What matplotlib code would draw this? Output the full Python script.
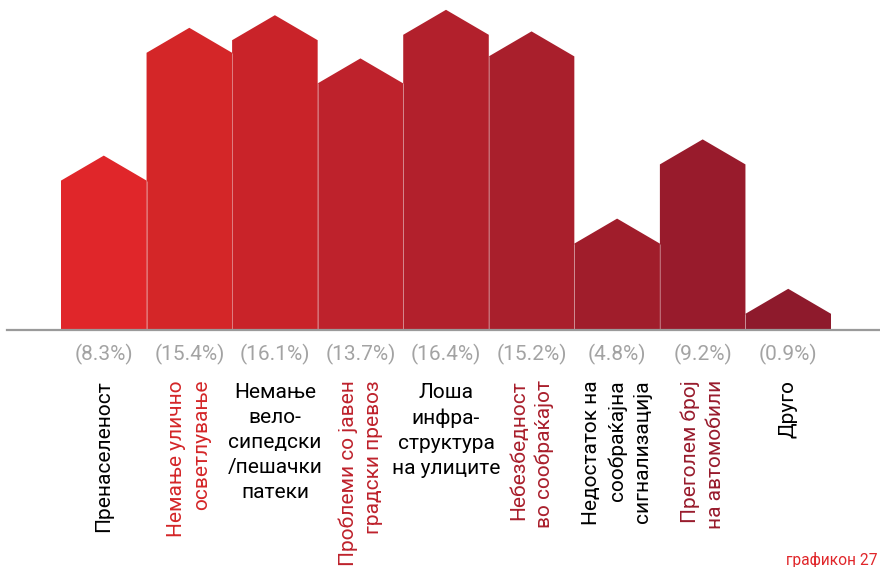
import matplotlib
matplotlib.use('Agg')
import matplotlib.pyplot as plt
from matplotlib.patches import Polygon

categories = [
    "Пренаселеност",
    "Немање улично\nосветлување",
    "Немање\nвело-\nсипедски\n/пешачки\nпатеки",
    "Проблеми со јавен\nградски превоз",
    "Лоша\nинфра-\nструктура\nна улиците",
    "Небезбедност\nво сообраќајот",
    "Недостаток на\nсообраќајна\nсигнализација",
    "Преголем број\nна автомобили",
    "Друго",
]
values = [8.3, 15.4, 16.1, 13.7, 16.4, 15.2, 4.8, 9.2, 0.9]
bar_colors = ["#e0262a", "#d42628", "#c92329", "#be222c", "#b2202c",
              "#a91f2c", "#a01d2b", "#981b2c", "#8e1a2c"]
label_vertical = [True, True, False, True, False, True, True, True, True]
label_red = [False, True, False, True, False, True, False, True, False]
footer = "графикон 27"

plt.rcParams['font.family'] = ['Roboto', 'DejaVu Sans']

W, H = 880, 567
fig = plt.figure(figsize=(W / 100, H / 100), dpi=100)
base_px = 330
ax = fig.add_axes([7 / W, (H - base_px) / H, (W - 7) / W, base_px / H])

px_per_unit = 85.56
left_units = (61 - 7) / px_per_unit
right_units = (W - 831) / px_per_unit
ax.set_xlim(-0.5 - left_units, len(values) - 0.5 + right_units)
ymax = base_px / 18.0
ax.set_ylim(0, ymax)
roof = 25 / 18.0

for i, (v, c) in enumerate(zip(values, bar_colors)):
    poly = Polygon([(i - 0.5, 0), (i - 0.5, v), (i, v + roof), (i + 0.5, v), (i + 0.5, 0)],
                   closed=True, facecolor=c, edgecolor='none', zorder=2)
    ax.add_patch(poly)

# thin light separators between adjacent bars
for i in range(len(values) - 1):
    ax.vlines(i + 0.5, 0, min(values[i], values[i + 1]), color='white',
              alpha=0.35, linewidth=0.7, zorder=3)

for s in ['top', 'right', 'left']:
    ax.spines[s].set_visible(False)
ax.spines['bottom'].set_color('#9a9a9a')
ax.spines['bottom'].set_linewidth(1.6)
ax.spines['bottom'].set_zorder(4)
ax.set_xticks([])
ax.set_yticks([])
ax.patch.set_alpha(0)

for i, v in enumerate(values):
    ax.annotate(f"({v:.1f}%)", xy=(i, 0), xycoords='data',
                xytext=(0, -24), textcoords='offset pixels',
                ha='center', va='center', fontsize=15, color='#a3a3a3',
                annotation_clip=False)
    color = bar_colors[i] if label_red[i] else 'black'
    if label_vertical[i]:
        ax.annotate(categories[i], xy=(i, 0), xycoords='data',
                    xytext=(0, -50), textcoords='offset pixels',
                    ha='center', va='top', rotation=90, fontsize=15,
                    color=color, multialignment='right', linespacing=1.42,
                    annotation_clip=False)
    else:
        ax.annotate(categories[i], xy=(i, 0), xycoords='data',
                    xytext=(0, -53), textcoords='offset pixels',
                    ha='center', va='top', fontsize=15,
                    color=color, multialignment='center', linespacing=1.4,
                    annotation_clip=False)

fig.text(1 - 3 / W, 1 - 565 / H, footer, color='#e0262a', fontsize=11.2,
         ha='right', va='baseline')

fig.savefig('out.png', dpi=100)
